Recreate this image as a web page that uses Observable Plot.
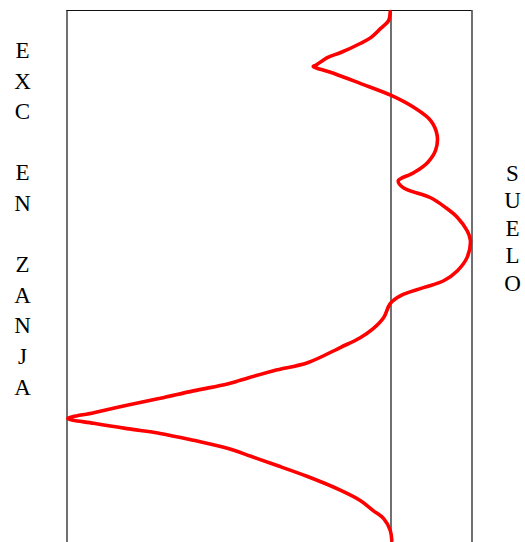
<!DOCTYPE html>
<html>
<head>
<meta charset="utf-8">
<script src="https://cdn.jsdelivr.net/npm/d3@7"></script>
<script src="https://cdn.jsdelivr.net/npm/@observablehq/plot@0.6"></script>
<style>
  html, body { margin: 0; padding: 0; background: #fff; overflow: hidden; }
  #wrap { position: relative; width: 525px; height: 542px; }
  #wrap svg { position: absolute; left: 0; top: 0; }
  .col { position: absolute; font-family: "Liberation Serif", "Times New Roman", serif; font-size: 23px; color: #000; text-align: center; white-space: pre; }
  #left { left: 7px; top: 36px; width: 31px; line-height: 30.6px; }
  #right { left: 497px; top: 159.5px; width: 31px; line-height: 27.5px; }
</style>
</head>
<body>
<div id="wrap">
  <div id="left" class="col"></div>
  <div id="right" class="col"></div>
</div>
<script>
// Horizontal value of the red curve (0 = vertical reference line)
const curveValue = [-0.01, -0.03, -0.13, -0.25, -0.38, -0.62, -0.78, -0.93, -0.96, -0.71,
  -0.38, 0.01, 0.28, 0.49, 0.57, 0.55, 0.45, 0.28, 0.09, 0.15,
  0.49, 0.67, 0.82, 0.94, 0.98, 0.94, 0.82, 0.65, 0.40, 0.12,
  -0.01, -0.09, -0.22, -0.38, -0.62, -1.03, -1.45, -1.86, -2.02, -2.44,
  -2.85, -3.26, -3.67, -3.99, -3.67, -3.26, -2.85, -2.44, -2.02, -1.73,
  -1.45, -1.03, -0.62, -0.38, -0.22, -0.09, -0.01, 0.01];
// Depth (top = 0, bottom = 100)
const curveDepth = [0.2, 1.9, 3.4, 5.1, 6.2, 7.9, 8.8, 10.3, 10.5, 11.8,
  13.7, 16.0, 18.2, 20.7, 23.5, 26.3, 28.6, 30.5, 32.0, 33.3,
  35.2, 37.0, 38.9, 41.4, 43.2, 46.4, 48.9, 50.8, 52.1, 53.6,
  55.1, 57.7, 59.8, 61.5, 63.3, 66.2, 67.7, 69.5, 70.2, 71.5,
  72.9, 74.2, 75.6, 76.7, 77.6, 78.6, 79.5, 80.8, 82.3, 83.8,
  85.3, 87.6, 90.2, 92.1, 94.0, 95.5, 97.7, 99.6];
const frameX = [-4, 1];
const zeroX = [0];
const leftLabel = ["E", "X", "C", "", "E", "N", "", "Z", "A", "N", "J", "A"];
const rightLabel = ["S", "U", "E", "L", "O"];

const curve = curveValue.map((v, i) => ({v, d: curveDepth[i]}));

const chart = Plot.plot({
  width: 525,
  height: 542,
  marginLeft: 66.5,
  marginRight: 53.5,
  marginTop: 10,
  marginBottom: 0,
  x: {domain: [-4, 1], axis: null},
  y: {domain: [0, 100], reverse: true, axis: null},
  style: {background: "white", overflow: "visible"},
  marks: [
    Plot.ruleX(frameX, {stroke: "#111", strokeWidth: 1.2}),
    Plot.ruleX(zeroX, {stroke: "#111", strokeWidth: 1.2}),
    Plot.ruleY([0], {x1: -4, x2: 1, stroke: "#111", strokeWidth: 1.2}),
    Plot.line(curve, {x: "v", y: "d", stroke: "red", strokeWidth: 3.6, curve: "catmull-rom", strokeLinejoin: "miter"})
  ]
});
document.getElementById("wrap").prepend(chart);
document.getElementById("left").textContent = leftLabel.join("\n");
document.getElementById("right").textContent = rightLabel.join("\n");
</script>
</body>
</html>
